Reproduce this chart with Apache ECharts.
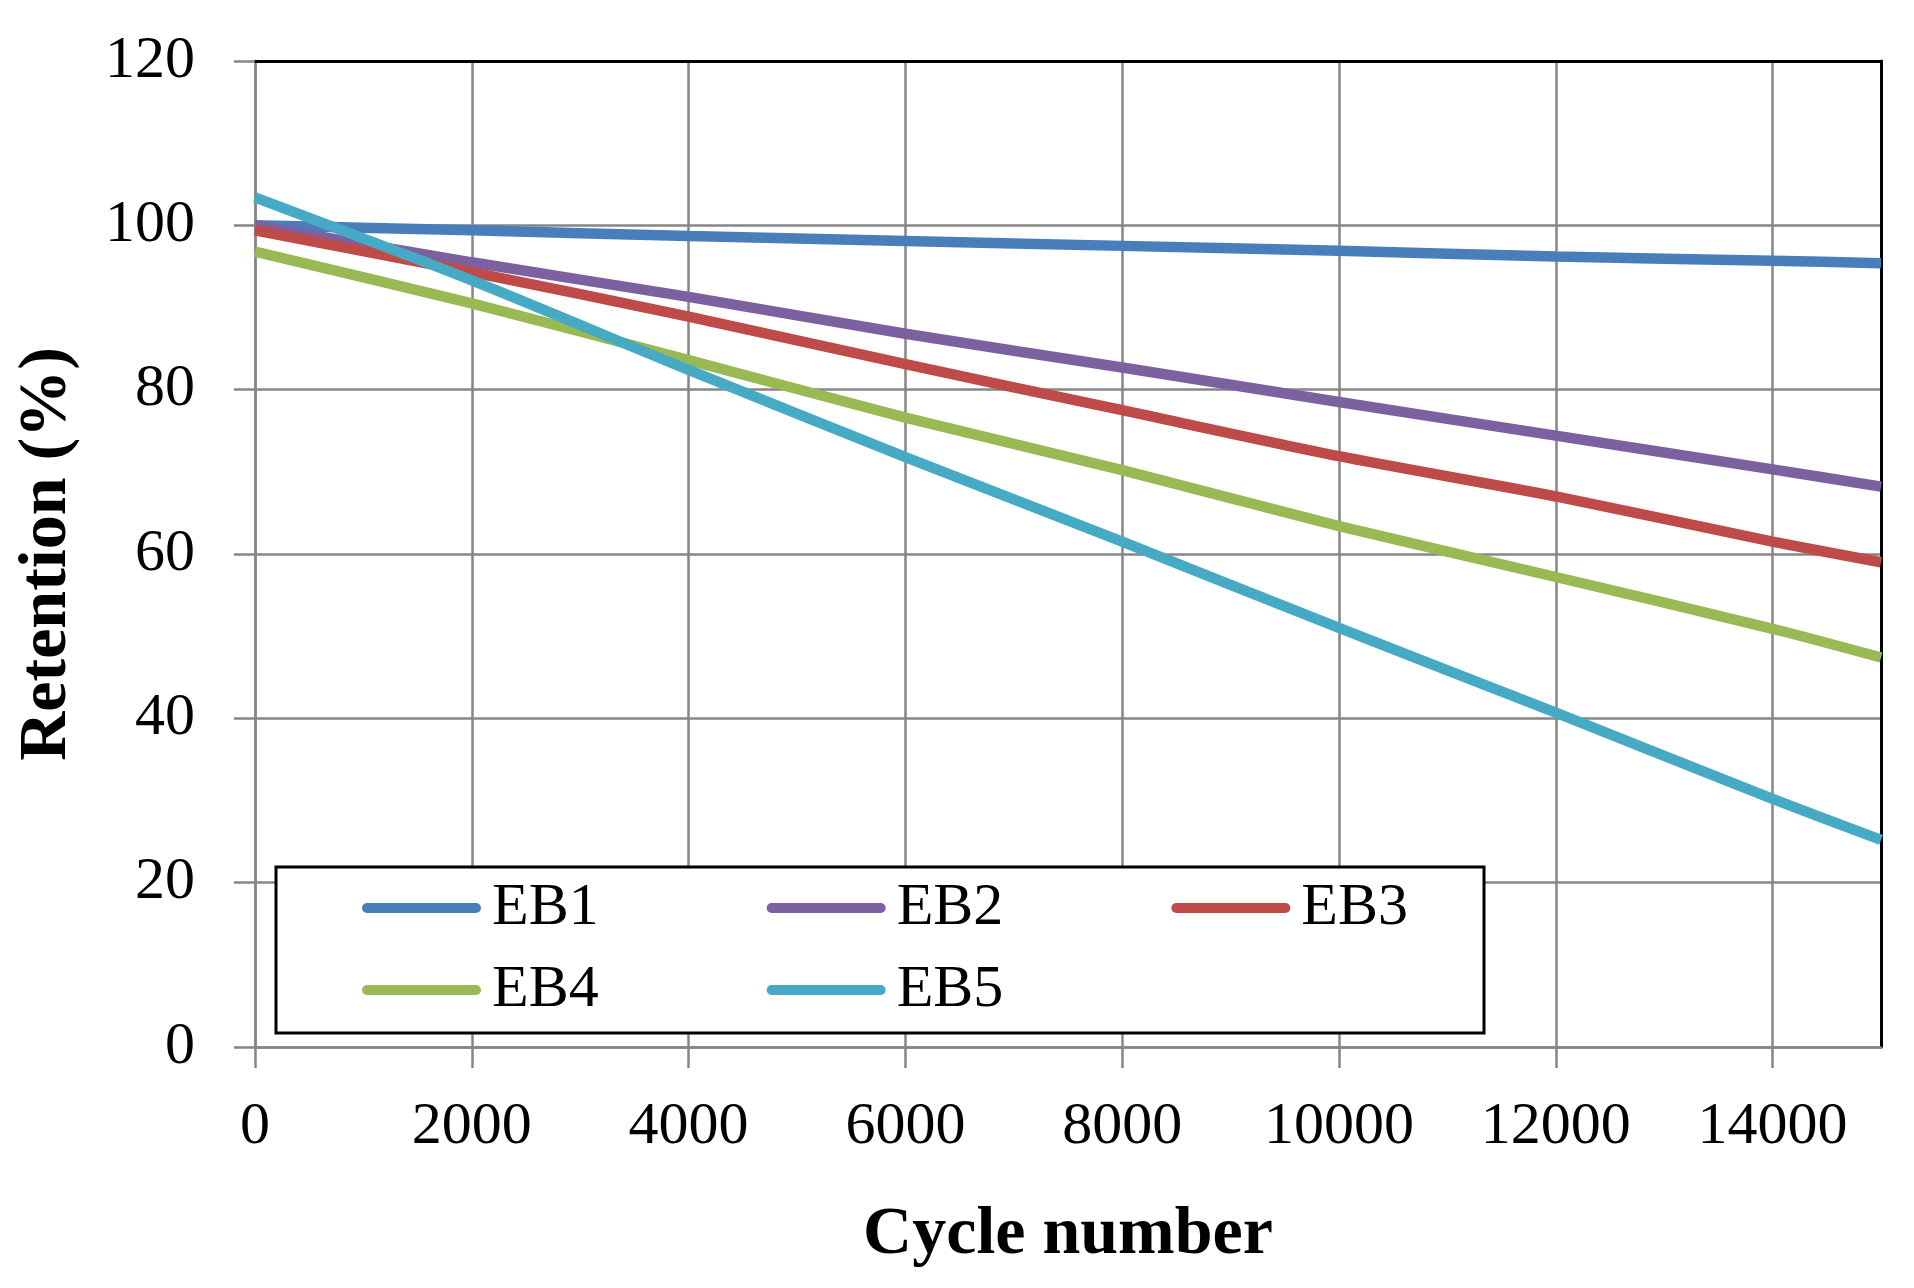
<!DOCTYPE html>
<html>
<head>
<meta charset="utf-8">
<script src="https://cdn.jsdelivr.net/npm/echarts@6/dist/echarts.min.js"></script>
<style>
html,body{margin:0;padding:0;background:#fff;}
#chart{width:1914px;height:1288px;}
</style>
</head>
<body>
<div id="chart"></div>
<script>
// ---- data ----
const cycles = [0, 2000, 4000, 6000, 8000, 10000, 12000, 14000, 15000];
const eb1 = [100, 99.4, 98.7, 98.1, 97.5, 96.9, 96.2, 95.7, 95.4];
const eb2 = [100, 95.5, 91.3, 86.8, 82.7, 78.5, 74.4, 70.3, 68.2];
const eb3 = [99.4, 94.3, 88.9, 83.1, 77.5, 71.9, 67.0, 61.5, 59.0];
const eb4 = [96.8, 90.5, 83.6, 76.6, 70.2, 63.4, 57.2, 50.9, 47.4];
const eb5 = [103.4, 93.3, 82.4, 71.8, 61.5, 51.0, 40.7, 30.2, 25.2];
const seriesNames = ['EB1', 'EB2', 'EB3', 'EB4', 'EB5'];
const xTicks = [0, 2000, 4000, 6000, 8000, 10000, 12000, 14000];
const yTicks = [0, 20, 40, 60, 80, 100, 120];

const colors = ['#4A7EBB', '#7D60A0', '#BE4B48', '#98B954', '#46AAC5'];
const allValues = [eb1, eb2, eb3, eb4, eb5];
const FONT = '"Liberation Serif", "Times New Roman", serif';
const gridGray = '#868686';
const capsule = 'path://M5,0 L114,0 A5,5 0 0 1 114,10 L5,10 A5,5 0 0 1 5,0 Z';

const chart = echarts.init(document.getElementById('chart'), null, {renderer: 'canvas'});

const legendCommon = {
  orient: 'horizontal',
  left: 276,
  itemWidth: 119,
  itemHeight: 11,
  itemGap: 168,
  icon: capsule,
  textStyle: {fontFamily: FONT, fontSize: 60, color: '#000', padding: [0, 0, 0, 6]},
  selectedMode: false
};

chart.setOption({
  animation: false,
  backgroundColor: '#fff',
  color: colors,
  grid: {left: 255, right: 33, top: 61, bottom: 241, containLabel: false},
  legend: [
    Object.assign({}, legendCommon, {
      data: seriesNames.slice(0, 3),
      top: 867,
      padding: [11, 76, 95, 86],
      backgroundColor: '#fff',
      borderColor: '#000',
      borderWidth: 3
    }),
    Object.assign({}, legendCommon, {
      data: seriesNames.slice(3),
      top: 960,
      padding: [0, 0, 0, 86]
    })
  ],
  xAxis: [{
    type: 'value', min: 0, max: 15000, interval: 2000,
    name: 'Cycle number', nameLocation: 'middle', nameGap: 154,
    nameTextStyle: {fontFamily: FONT, fontSize: 68, fontWeight: 'bold', color: '#000'},
    axisLine: {show: true, lineStyle: {color: gridGray, width: 2.5}},
    axisTick: {show: true, length: 21, lineStyle: {color: gridGray, width: 2.5}, customValues: xTicks},
    axisLabel: {fontFamily: FONT, fontSize: 60, color: '#000', margin: 50, customValues: xTicks,
      formatter: v => String(v)},
    splitLine: {show: true, lineStyle: {color: gridGray, width: 2.5}}
  }, {
    type: 'value', min: 0, max: 15000, position: 'top',
    axisLine: {show: true, onZero: false, lineStyle: {color: '#000', width: 3}},
    axisTick: {show: false}, axisLabel: {show: false}, splitLine: {show: false}
  }],
  yAxis: [{
    type: 'value', min: 0, max: 120, interval: 20,
    name: 'Retention (%)', nameLocation: 'middle', nameGap: 174,
    nameTextStyle: {fontFamily: FONT, fontSize: 68, fontWeight: 'bold', color: '#000'},
    axisLine: {show: true, lineStyle: {color: gridGray, width: 2.5}},
    axisTick: {show: true, length: 21, lineStyle: {color: gridGray, width: 2.5}},
    axisLabel: {fontFamily: FONT, fontSize: 60, color: '#000', margin: 60, customValues: yTicks},
    splitLine: {show: true, lineStyle: {color: gridGray, width: 2.5}}
  }, {
    type: 'value', min: 0, max: 120, position: 'right',
    axisLine: {show: true, onZero: false, lineStyle: {color: '#000', width: 3}},
    axisTick: {show: false}, axisLabel: {show: false}, splitLine: {show: false}
  }],
  series: seriesNames.map((name, i) => ({
    name: name,
    type: 'line',
    xAxisIndex: 0,
    yAxisIndex: 0,
    data: cycles.map((c, j) => [c, allValues[i][j]]),
    smooth: 0.25,
    showSymbol: false,
    symbol: 'none',
    lineStyle: {width: 10.5, color: colors[i], cap: 'butt'},
    itemStyle: {color: colors[i]},
    z: 2 + i * 0.01
  }))
});
</script>
</body>
</html>
